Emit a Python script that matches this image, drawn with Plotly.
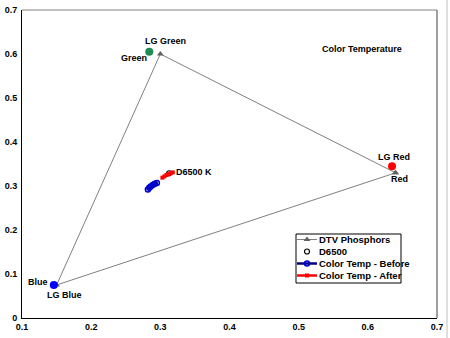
import plotly.graph_objects as go

# DTV phosphor primaries (closed triangle R-G-B-R)
phos_x = [0.64, 0.30, 0.15, 0.64]
phos_y = [0.33, 0.60, 0.075, 0.33]

# Measured LG panel primaries
lg_names = ["LG Red", "LG Green", "LG Blue"]
lg_x = [0.635, 0.284, 0.146]
lg_y = [0.345, 0.605, 0.075]
lg_colors = ["#ff0000", "#1e8c50", "#0000ff"]

# D6500 white point
d65_x = [0.3127]
d65_y = [0.329]

# Color temperature sweep before / after calibration
before_x = [0.282, 0.284, 0.286, 0.289, 0.292, 0.295]
before_y = [0.292, 0.296, 0.299, 0.302, 0.305, 0.307]
after_x = [0.303, 0.306, 0.309, 0.312, 0.315, 0.318]
after_y = [0.319, 0.322, 0.325, 0.327, 0.329, 0.331]

x_ticks = [0.1, 0.2, 0.3, 0.4, 0.5, 0.6, 0.7]
x_tick_labels = ["0.1", "0.2", "0.3", "0.4", "0.5", "0.6", "0.7"]
y_ticks = [0, 0.1, 0.2, 0.3, 0.4, 0.5, 0.6, 0.7]
y_tick_labels = ["0", "0.1", "0.2", "0.3", "0.4", "0.5", "0.6", "0.7"]

FONT = "Liberation Sans, Arial, sans-serif"
LBL = dict(family=FONT, size=9, color="black", weight="bold")

# series styles shared by the plot and the compact legend
styles = [
    ("DTV Phosphors", dict(color="#808080", width=1),
     dict(symbol="triangle-up", size=6, color="#606060"), "lines+markers"),
    ("D6500", dict(color="black", width=1),
     dict(symbol="circle-open", size=5, color="black", line=dict(width=1.2)), "markers"),
    ("Color Temp - Before", dict(color="#000080", width=2.5),
     dict(symbol="circle-open", size=5, color="#0000cc", line=dict(width=1.5)), "lines+markers"),
    ("Color Temp - After", dict(color="#ff0000", width=2.5),
     dict(symbol="square", size=4, color="#ff0000"), "lines+markers"),
]
series_xy = [(phos_x, phos_y), (d65_x, d65_y), (before_x, before_y), (after_x, after_y)]

fig = go.Figure()

for (name, line, marker, mode), (sx, sy) in zip(styles, series_xy):
    fig.add_trace(go.Scatter(x=sx, y=sy, mode=mode, name=name, line=line,
                             marker=marker, showlegend=False))

fig.add_trace(go.Scatter(
    x=lg_x, y=lg_y, mode="markers", showlegend=False,
    marker=dict(symbol="circle", size=8, color=lg_colors),
))

labels = [
    ("LG Green", 0.307, 0.630),
    ("Green", 0.262, 0.591),
    ("LG Red", 0.638, 0.366),
    ("Red", 0.646, 0.316),
    ("Blue", 0.123, 0.082),
    ("LG Blue", 0.161, 0.052),
]
for txt, lx, ly in labels:
    fig.add_annotation(x=lx, y=ly, text=txt, showarrow=False, font=LBL)

fig.add_annotation(x=0.3197, y=0.332, text="D6500 K", showarrow=False, xanchor="left", font=LBL)
fig.add_annotation(x=(362 - 22) / 415, y=(318 - 49) / 308, xref="paper", yref="paper",
                   xanchor="center", yanchor="middle",
                   text="Color Temperature", showarrow=False, font=LBL)

# compact legend on an overlay axis measured in pixels
leg_left, leg_right, leg_top, leg_bottom = 296, 401, 234, 283
row_y = [239.5, 251.5, 263.5, 275.5]
fig.add_shape(type="rect", xref="x2", yref="y2", x0=leg_left, x1=leg_right,
              y0=leg_top, y1=leg_bottom, line=dict(color="black", width=1),
              fillcolor="white", layer="below")
for (name, line, marker, mode), ry in zip(styles, row_y):
    if "lines" in mode:
        fig.add_trace(go.Scatter(x=[297, 317], y=[ry, ry], mode="lines", line=line,
                                 xaxis="x2", yaxis="y2", showlegend=False, hoverinfo="skip"))
    fig.add_trace(go.Scatter(x=[307], y=[ry], mode="markers", marker=marker,
                             xaxis="x2", yaxis="y2", showlegend=False, hoverinfo="skip"))
    fig.add_annotation(x=317, y=ry, xref="x2", yref="y2", text=name, showarrow=False,
                       xanchor="left", yanchor="middle",
                       font=dict(family=FONT, size=9.5, color="black", weight="bold"))

# plot frame: gray top and right edges
fig.add_shape(type="line", xref="paper", yref="paper", x0=0, x1=1, y0=1, y1=1,
              line=dict(color="#808080", width=1))
fig.add_shape(type="line", xref="paper", yref="paper", x0=1, x1=1, y0=0, y1=1,
              line=dict(color="#808080", width=1.5))
# outer chart border on the right
fig.add_shape(type="line", xref="paper", yref="paper", x0=(447 - 22) / 415, x1=(447 - 22) / 415,
              y0=-20 / 308, y1=1 + 10 / 308, line=dict(color="#c0c0c0", width=1))

tickfont = dict(family=FONT, size=9, color="black", weight="bold")

fig.update_layout(
    width=450, height=338,
    margin=dict(l=22, r=13, t=10, b=20),
    paper_bgcolor="white", plot_bgcolor="white",
    showlegend=False,
    xaxis=dict(range=[0.1, 0.7], tickvals=x_ticks, ticktext=x_tick_labels,
               showgrid=False, zeroline=False, showline=True, linecolor="black", linewidth=1,
               ticks="", tickfont=tickfont, automargin=False),
    yaxis=dict(range=[0, 0.7], tickvals=y_ticks, ticktext=y_tick_labels,
               showgrid=False, zeroline=False, showline=True, linecolor="black", linewidth=1,
               ticks="", tickfont=tickfont, automargin=False, ticklabelstandoff=2),
    xaxis2=dict(overlaying="x", range=[22, 437], visible=False, fixedrange=True),
    yaxis2=dict(overlaying="y", range=[318, 10], visible=False, fixedrange=True),
)

fig.write_html("out.html")
